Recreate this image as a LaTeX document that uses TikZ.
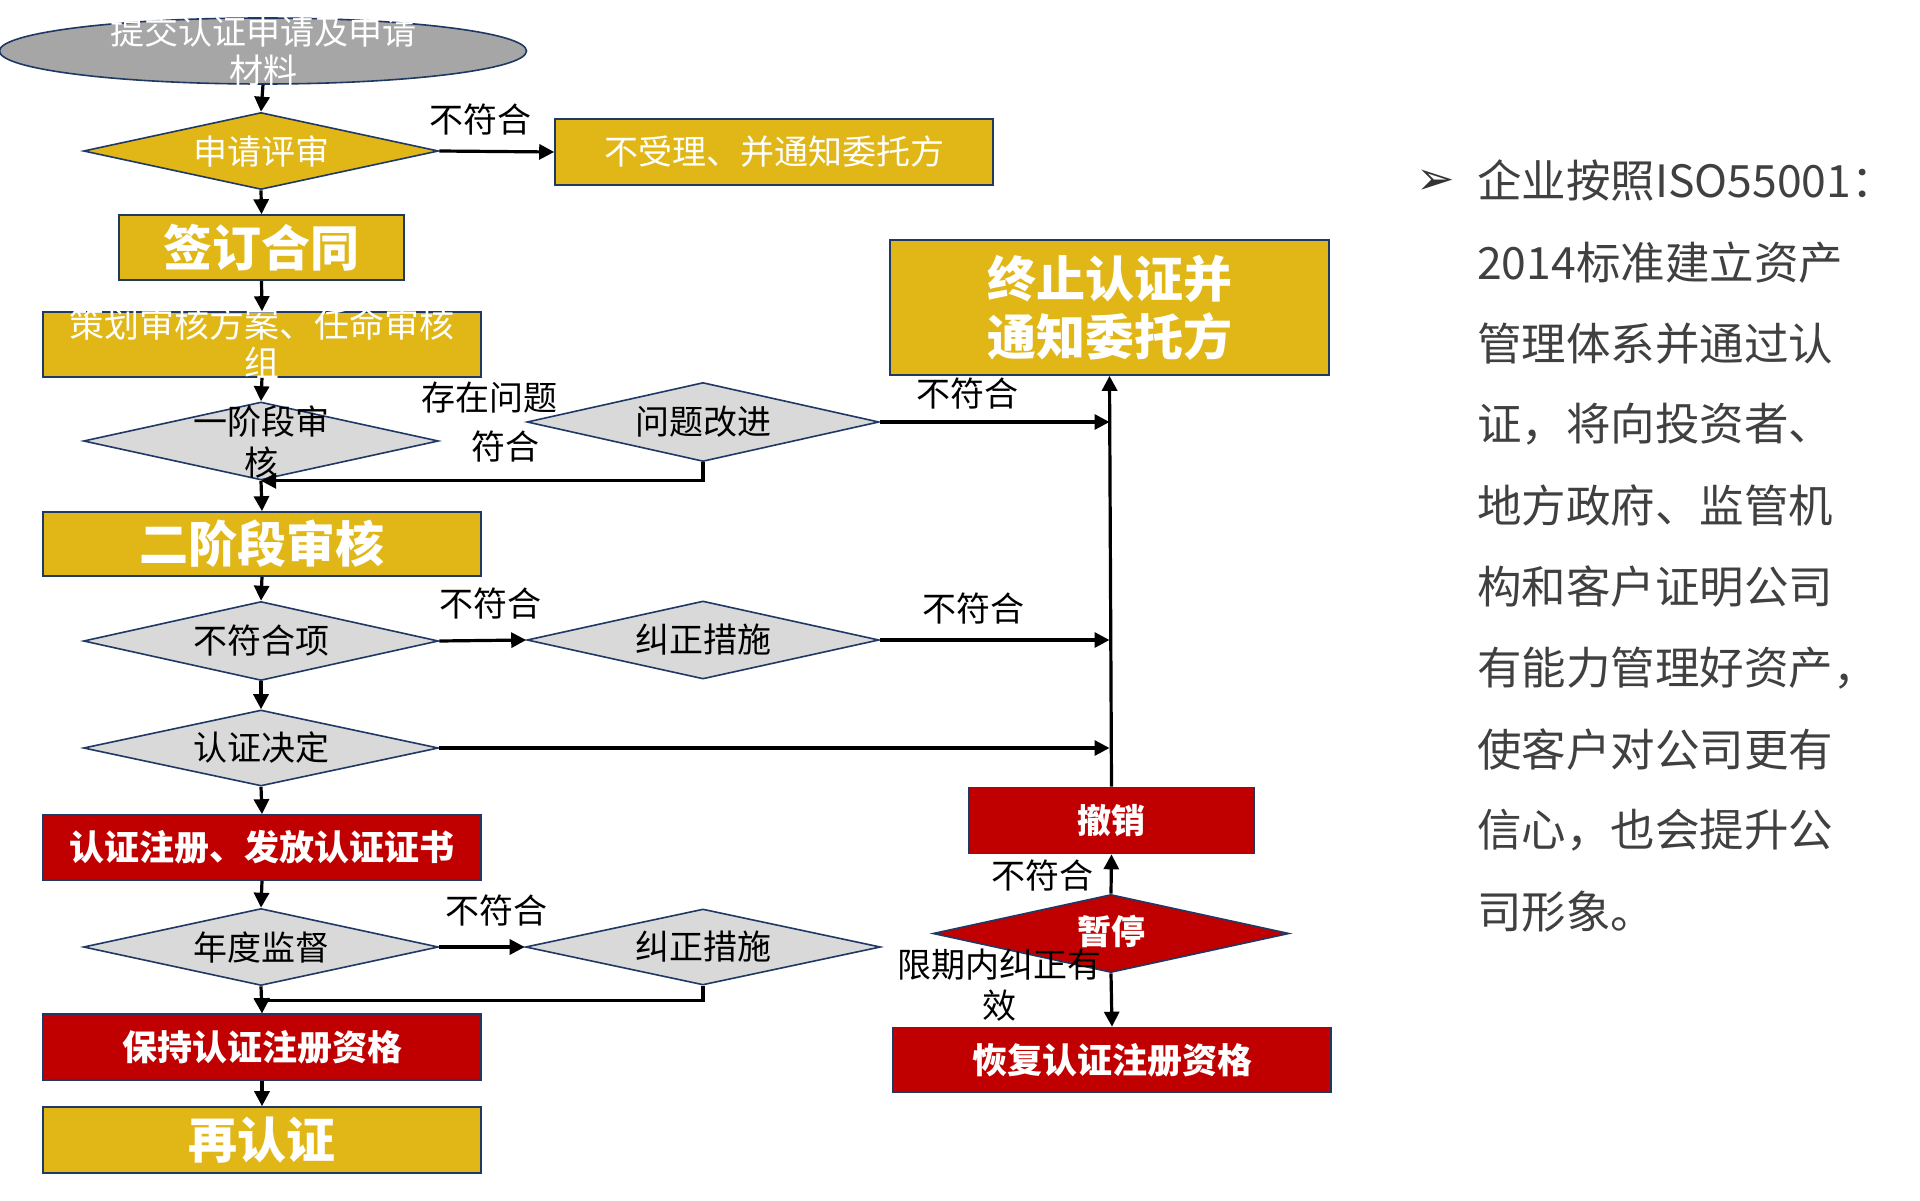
\documentclass[tikz,border=0pt]{standalone}
\usepackage{fontspec}
\setmainfont{Noto Sans CJK SC}
\newfontfamily\dejavufont{DejaVu Sans}
\usetikzlibrary{shapes.geometric,arrows.meta,calc}
\definecolor{gold}{HTML}{E1B617}
\definecolor{darkred}{HTML}{C00000}
\definecolor{lgray}{HTML}{D9D9D9}
\definecolor{mgray}{HTML}{A6A6A6}
\definecolor{navy}{HTML}{1F3864}
\definecolor{txtgray}{HTML}{404040}
\begin{document}
\begin{tikzpicture}[x=1pt,y=-1pt,
  box/.style={draw=navy,line width=1.6pt,rectangle,inner sep=0pt},
  goldbox/.style={box,fill=gold},
  redbox/.style={box,fill=darkred},
  dia/.style={draw=navy,line width=1.6pt,diamond,inner sep=0pt,minimum width=355pt,minimum height=77pt},
  golddia/.style={dia,fill=gold},
  graydia/.style={dia,fill=lgray},
  reddia/.style={dia,fill=darkred},
  wtxt/.style={text=white,font=\fontsize{34}{40}\selectfont,align=center,inner sep=0pt},
  btxt/.style={text=black,font=\fontsize{34}{41}\selectfont,align=center,inner sep=0pt},
  bigbold/.style={text=white,font=\fontsize{49}{58}\selectfont\bfseries,align=center},
  midbold/.style={text=white,font=\fontsize{35}{41}\selectfont\bfseries,align=center},
  rtxt/.style={text=txtgray,font=\fontsize{44.5}{52}\selectfont,anchor=west,inner sep=0pt},
  conn/.style={line width=3.2pt,-{Triangle[length=15pt,width=15pt]}}
]
\useasboundingbox[fill=white] (0,0) rectangle (1920,1201);

% ---------- left column ----------
\node[ellipse,draw=navy,line width=1.6pt,fill=mgray,minimum width=527pt,minimum height=66pt,inner sep=0pt] (ell) at (263,51) {};
\node[wtxt,font=\fontsize{34}{39}\selectfont] (ellt) at (263,51) {提交认证申请及申请\\材料};

\node[golddia] (d1) at (261,151) {};
\node[wtxt] (d1t) at (d1) {申请评审};

\node[goldbox,minimum width=438pt,minimum height=66pt] (r1) at (774,152) {};
\node[wtxt] (r1t) at (r1) {不受理、并通知委托方};

\node[goldbox,minimum width=285pt,minimum height=65pt,bigbold] (sign) at (261.5,247.5) {签订合同};

\node[goldbox,minimum width=438pt,minimum height=65pt] (plan) at (262,344.5) {};
\node[wtxt,font=\fontsize{35}{39}\selectfont] (plant) at (262,343) {策划审核方案、任命审核\\组};

\node[graydia,minimum height=78pt] (d2) at (261,441) {};
\node[btxt] (d2t) at (261,442) {一阶段审\\核};

\node[goldbox,minimum width=438pt,minimum height=64pt,bigbold] (s2) at (262,544) {二阶段审核};

\node[graydia,minimum width=352pt,minimum height=79pt] (d3) at (703,422) {};
\node[btxt] (d3t) at (d3) {问题改进};

\node[graydia,minimum height=79pt] (d4) at (261,641) {};
\node[btxt] (d4t) at (d4) {不符合项};

\node[graydia,minimum width=352pt,minimum height=78pt] (d5) at (703,640) {};
\node[btxt] (d5t) at (d5) {纠正措施};

\node[graydia,minimum height=76pt] (d6) at (261,748) {};
\node[btxt] (d6t) at (d6) {认证决定};

\node[redbox,minimum width=438pt,minimum height=65pt,midbold] (reg) at (262,847.5) {认证注册、发放认证证书};

\node[graydia] (d7) at (261,947) {};
\node[btxt] (d7t) at (d7) {年度监督};

\node[graydia,minimum height=76pt] (d8) at (703,947) {};
\node[btxt] (d8t) at (d8) {纠正措施};

\node[redbox,minimum width=438pt,minimum height=66pt,midbold] (keep) at (262,1047) {保持认证注册资格};

\node[goldbox,minimum width=438pt,minimum height=66pt,bigbold] (re) at (262,1140) {再认证};

% ---------- right column ----------
\node[goldbox,minimum width=439pt,minimum height=135pt,bigbold] (term) at (1109.5,307.5) {终止认证并\\通知委托方};

\node[redbox,minimum width=285pt,minimum height=66pt,midbold,font=\fontsize{34}{40}\selectfont\bfseries] (revoke) at (1111.5,820.5) {撤销};

\node[reddia,minimum width=356pt,minimum height=78pt] (d9) at (1111,933.5) {};
\node[midbold,font=\fontsize{34}{40}\selectfont\bfseries,inner sep=0pt] (d9t) at (1111,931) {暂停};

\node[redbox,minimum width=438pt,minimum height=65pt,midbold] (restore) at (1112,1060) {恢复认证注册资格};

% ---------- connectors ----------
\draw[conn] (ell.south) -- (d1.north);
\draw[conn] (d1.east) -- (r1.west);
\draw[conn] (d1.south) -- (sign.north);
\draw[conn] (sign.south) -- (plan.north);
\draw[conn] (plan.south) -- (d2.north);
\draw[conn] (d2.south) -- (s2.north);
\draw[conn] (d3.south) |- (d2.south);
\draw[conn] (d3.east) -- (d3.east -| term.south);
\draw[conn] (s2.south) -- (d4.north);
\draw[conn] (d4.east) -- (d5.west);
\draw[conn] (d5.east) -- (d5.east -| term.south);
\draw[conn] (d4.south) -- (d6.north);
\draw[conn] (d6.east) -- (d6.east -| term.south);
\draw[conn] (d6.south) -- (reg.north);
\draw[conn] (reg.south) -- (d7.north);
\draw[conn] (d7.east) -- (d8.west);
\draw[conn] (d8.south) -- ++(0,15) -| (keep.north);
\draw[conn] (d7.south) -- (keep.north);
\draw[conn] (keep.south) -- (re.north);
\draw[conn] (revoke.north) -- (term.south);
\draw[conn] (d9.north) -- (revoke.south);
\draw[conn] (d9.south) -- (restore.north);

% ---------- connector labels ----------
\node[btxt] (l1) at (480,120) {不符合};
\node[btxt] (l2) at (489,398) {存在问题};
\node[btxt] (l3) at (505,447) {符合};
\node[btxt] (l4) at (967,394) {不符合};
\node[btxt] (l5) at (490,604) {不符合};
\node[btxt] (l6) at (973,609) {不符合};
\node[btxt] (l7) at (496,911) {不符合};
\node[btxt] (l8) at (1042,876) {不符合};
\node[btxt] (l9) at (999,985) {限期内纠正有\\效};

% ---------- right text ----------
\node[text=black!80,font=\dejavufont\fontsize{46}{50}\selectfont,inner sep=0pt] (bul) at (1436,182) {➢};
\node[rtxt] (t1) at (1477,181.0) {企业按照ISO55001：};
\node[rtxt] (t2) at (1477,262.2) {2014标准建立资产};
\node[rtxt] (t3) at (1477,343.4) {管理体系并通过认};
\node[rtxt] (t4) at (1477,424.6) {证，将向投资者、};
\node[rtxt] (t5) at (1477,505.8) {地方政府、监管机};
\node[rtxt] (t6) at (1477,587.0) {构和客户证明公司};
\node[rtxt] (t7) at (1477,668.2) {有能力管理好资产，};
\node[rtxt] (t8) at (1477,749.4) {使客户对公司更有};
\node[rtxt] (t9) at (1477,830.6) {信心，也会提升公};
\node[rtxt] (t10) at (1477,911.8) {司形象。};
\end{tikzpicture}
\end{document}
